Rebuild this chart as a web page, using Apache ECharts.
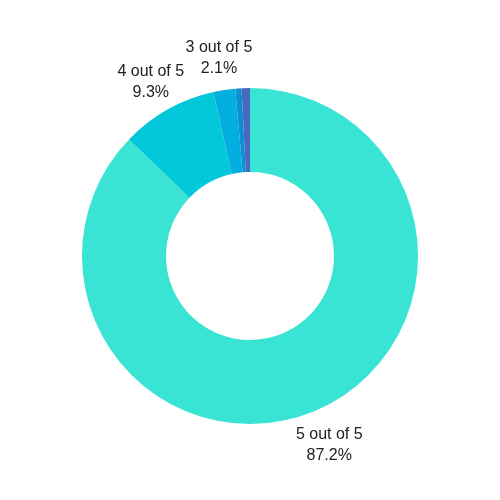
<!DOCTYPE html>
<html>
<head>
<meta charset="utf-8">
<script src="https://cdn.jsdelivr.net/npm/echarts@6/dist/echarts.min.js"></script>
<style>
  html, body { margin: 0; padding: 0; background: #fff; }
  #chart { width: 500px; height: 500px; }
</style>
</head>
<body>
<div id="chart"></div>
<script>
	// ratings, clockwise from 12 o'clock
	var categories = ['5 out of 5', '4 out of 5', '3 out of 5', '2 out of 5', '1 out of 5'];
	var shares = [87.2, 9.3, 2.1, 0.6, 0.8];
	var colors = ['#3ae4d5', '#03c8da', '#02afde', '#0d8fd6', '#4a68be'];

	var pieData = [];
	for (var i = 0; i < categories.length; i++) {
		pieData.push({ name: categories[i], value: shares[i] });
	}

	var chart = echarts.init(document.getElementById('chart'));
	var option = {
		animation: false,
		color: colors,
		series: [
			{
				// the ring itself
				type: 'pie',
				center: [250, 256],
				radius: [84, 168],
				startAngle: 90,
				clockwise: true,
				silent: true,
				label: { show: false },
				labelLine: { show: false },
				data: pieData
			},
			{
				// invisible ring only used to place the centered labels
				type: 'pie',
				center: [250, 258.5],
				radius: [193.5, 205.5],
				startAngle: 90,
				clockwise: true,
				silent: true,
				percentPrecision: 1,
				itemStyle: { color: 'rgba(0,0,0,0)' },
				label: {
					show: true,
					position: 'inside',
					color: '#222',
					fontFamily: 'Liberation Sans, Arial, sans-serif',
					fontSize: 16,
					lineHeight: 21,
					align: 'center',
					formatter: function (p) {
						if (p.percent < 2) return '';
						return '{c|' + p.name + '}\n{c|' + p.percent.toFixed(1) + '%}';
					},
					rich: {
						c: {
							align: 'center',
							fontSize: 16,
							lineHeight: 21,
							color: '#222',
							fontFamily: 'Liberation Sans, Arial, sans-serif'
						}
					}
				},
				labelLine: { show: false },
				data: pieData
			}
		]
	};
	chart.setOption(option);
</script>
</body>
</html>
